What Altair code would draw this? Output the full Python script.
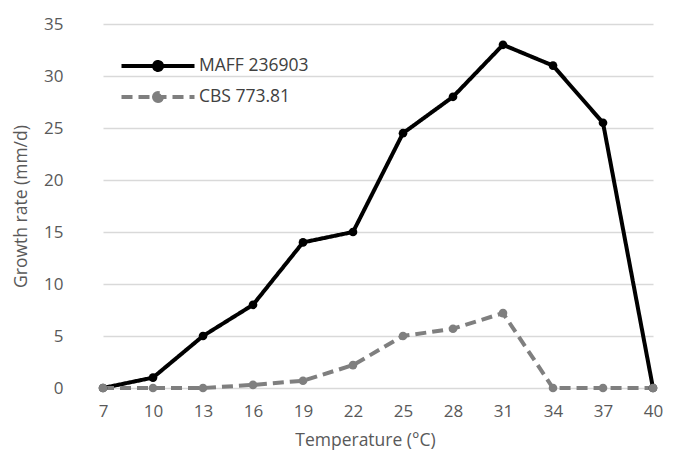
import altair as alt
import pandas as pd

temps = [7, 10, 13, 16, 19, 22, 25, 28, 31, 34, 37, 40]
maff = [0, 1, 5, 8, 14, 15, 24.5, 28, 33, 31, 25.5, 0]
cbs = [0, 0, 0, 0.3, 0.7, 2.2, 5, 5.7, 7.2, 0, 0, 0]
series_names = ["MAFF 236903", "CBS 773.81"]
series_colors = ["#000000", "#7f7f7f"]
series_dash = [[1, 0], [11, 6]]

rows = []
for t, v in zip(temps, maff):
    rows.append({"temp": t, "rate": v, "series": series_names[0]})
for t, v in zip(temps, cbs):
    rows.append({"temp": t, "rate": v, "series": series_names[1]})
df = pd.DataFrame(rows)

FONT = "Open Sans"
TXT = "#595959"

x_enc = alt.X("temp:O", sort=temps, scale=alt.Scale(range=[25, 575], padding=0),
              axis=alt.Axis(title="Temperature (°C)", labelAngle=0, domain=False,
                            ticks=False, grid=False, labelPadding=15,
                            titlePadding=12, titleX=287))
y_enc = alt.Y("rate:Q", scale=alt.Scale(domain=[0, 35], nice=False),
              axis=alt.Axis(title="Growth rate (mm/d)", values=list(range(0, 40, 5)),
                            domain=False, ticks=False, grid=True, labelPadding=15,
                            titlePadding=13))

stroke_scale = alt.Scale(domain=series_names, range=series_colors)
legend = alt.Legend(title=None, orient="none", legendX=68, legendY=30,
                    symbolType="M-3.65,0H3.65M-0.4,0a0.4,0.4 0 1,0 0.8,0a0.4,0.4 0 1,0 -0.8,0",
                    symbolSize=400, symbolStrokeWidth=4, labelFontSize=17.5,
                    labelColor="#404040", labelFont=FONT, rowPadding=7, padding=0,
                    labelOffset=29)

lines = alt.Chart(df).mark_line(strokeWidth=4).encode(
    x=x_enc, y=y_enc,
    stroke=alt.Stroke("series:N", scale=stroke_scale, sort=series_names, legend=legend),
    strokeDash=alt.StrokeDash("series:N", scale=alt.Scale(domain=series_names, range=series_dash),
                              sort=series_names, legend=legend),
)
points = alt.Chart(df).mark_point(filled=True, size=75, opacity=1).encode(
    x=x_enc, y=y_enc,
    fill=alt.Fill("series:N", scale=stroke_scale, sort=series_names, legend=legend),
)

chart = alt.layer(lines, points).properties(
    width=589, height=364,
    autosize=alt.AutoSizeParams(type="none"),
    padding={"left": 70, "top": 16, "right": 0, "bottom": 63},
).configure_view(stroke=None).configure_axis(
    labelFont=FONT, titleFont=FONT, labelFontSize=17, titleFontSize=17.5,
    labelColor=TXT, titleColor=TXT, titleFontWeight="normal",
    gridColor="#d9d9d9", gridWidth=1.3,
)

chart.save("out.html", embed_options={"renderer": "svg", "actions": False})
